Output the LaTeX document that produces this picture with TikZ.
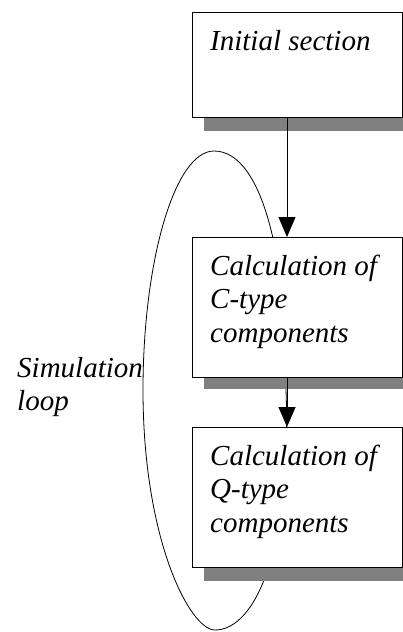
\documentclass[tikz,border=0pt]{standalone}
\usepackage{fontspec}
\setmainfont{Liberation Serif}
\usetikzlibrary{arrows.meta}
\begin{document}
\begin{tikzpicture}[x=1pt,y=-1pt,
  stagebox/.style={draw=black,line width=1.2pt,fill=white,minimum width=210pt,minimum height=#1,inner sep=0pt,anchor=north west},
  shadowbox/.style={fill=black!50,draw=none},
  boxtext/.style={inner sep=0pt,anchor=base west,font=\itshape\fontsize{29}{33.5}\selectfont},
  flow/.style={line width=1pt,-{Triangle[length=20pt,width=17pt]}},
  loopline/.style={line width=0.8pt}]
\clip (0,0) rectangle (403,632);
\fill[white] (0,0) rectangle (403,632);
% loop
\draw[loopline] (214,151) .. controls (175,151) and (143,260) .. (143,390)
  .. controls (143,540) and (190,630) .. (215,630)
  .. controls (255,630) and (292,550) .. (286,390)
  .. controls (288,270) and (265,151) .. (214,151) -- cycle;
% shadows
\fill[shadowbox] (204,26) rectangle (422,131);
\fill[shadowbox] (204,251) rectangle (422,389);
\fill[shadowbox] (204,441) rectangle (422,581);
% boxes
\node[stagebox=105pt] (init) at (192,12) {};
\node[stagebox=140pt] (calcC) at (192,237) {};
\node[stagebox=140pt] (calcQ) at (192,427) {};
\node[boxtext] (tinit) at (210,50) {\parbox[t]{190pt}{Initial section}};
\node[boxtext] (tcalcC) at (210,275) {\parbox[t]{190pt}{Calculation of\\C-type\\components}};
\node[boxtext] (tcalcQ) at (210,465) {\parbox[t]{190pt}{Calculation of\\Q-type\\components}};
\node[boxtext] (tloop) at (17,377) {\parbox[t]{190pt}{Simulation\\loop}};
% arrows
\draw[flow] (init.south -| 287,0) -- (calcC.north -| 287,0);
\draw[flow] (calcC.south -| 287,0) -- (calcQ.north -| 287,0);
\end{tikzpicture}
\end{document}
